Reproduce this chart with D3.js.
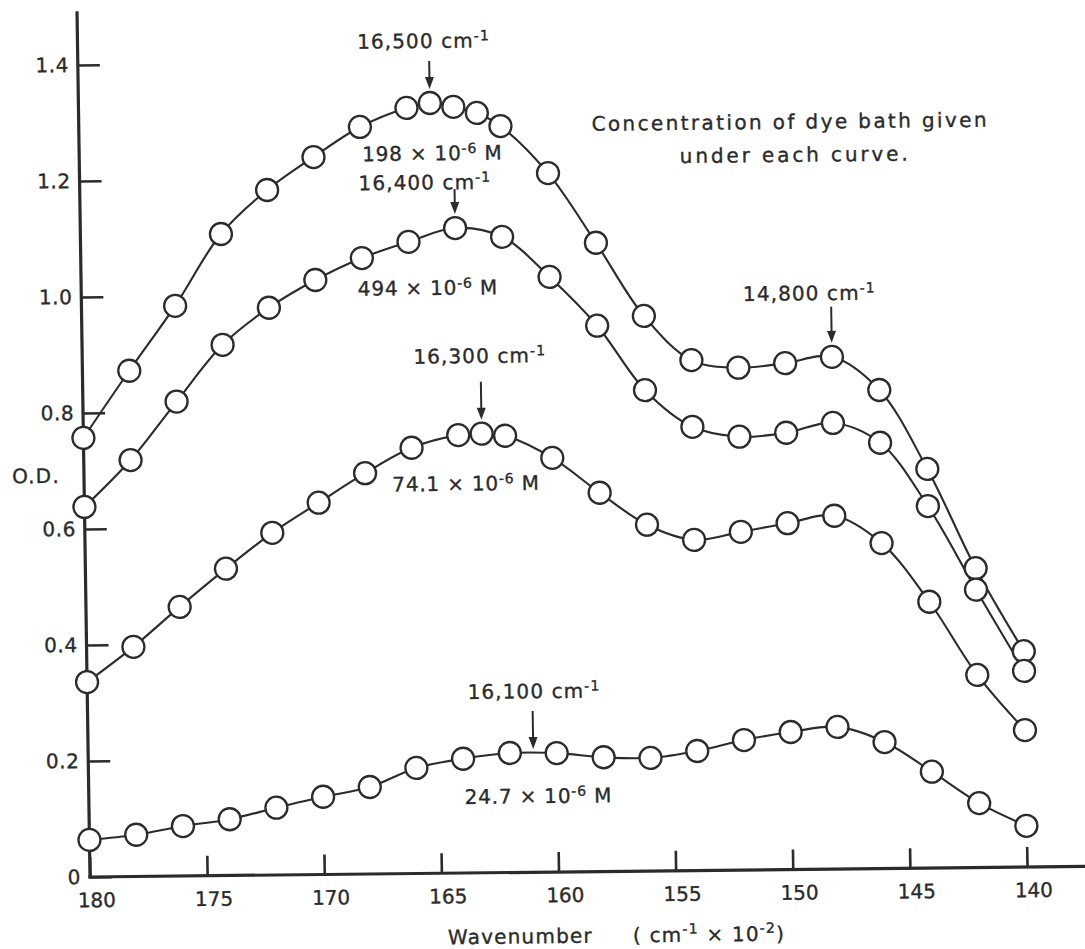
<!DOCTYPE html>
<html>
<head>
<meta charset="utf-8">
<script src="https://cdn.jsdelivr.net/npm/d3@7"></script>
<style>
  html, body { margin: 0; padding: 0; background: #ffffff; }
  svg { display: block; }
  text { font-family: "DejaVu Sans", "Liberation Sans", sans-serif; fill: #2b2b2b; stroke: #2b2b2b; stroke-width: 0.35px; }
</style>
</head>
<body>
<script>
// Absorption spectra of dyed film, one curve per dye-bath concentration.
// Wavenumber in units of 100 cm^-1, optical density (O.D.).

const wn198 = [180, 178, 176, 174, 172, 170, 168, 166, 165, 164, 163, 162, 160, 158, 156, 154, 152, 150, 148, 146, 144, 142, 140];
const od198 = [0.757, 0.872, 0.983, 1.106, 1.181, 1.237, 1.288, 1.320, 1.328, 1.321, 1.310, 1.287, 1.205, 1.084, 0.957, 0.880, 0.866, 0.873, 0.883, 0.825, 0.688, 0.516, 0.372];

const wn494 = [180, 178, 176, 174, 172, 170, 168, 166, 164, 162, 160, 158, 156, 154, 152, 150, 148, 146, 144, 142, 140];
const od494 = [0.638, 0.718, 0.818, 0.915, 0.978, 1.025, 1.062, 1.089, 1.112, 1.096, 1.026, 0.941, 0.829, 0.765, 0.747, 0.753, 0.769, 0.734, 0.624, 0.479, 0.338];

const wn741 = [180, 178, 176, 174, 172, 170, 168, 166, 164, 163, 162, 160, 158, 156, 154, 152, 150, 148, 146, 144, 142, 140];
const od741 = [0.336, 0.396, 0.464, 0.529, 0.590, 0.641, 0.691, 0.734, 0.755, 0.757, 0.753, 0.714, 0.653, 0.597, 0.570, 0.583, 0.597, 0.609, 0.561, 0.459, 0.332, 0.236];

const wn247 = [180, 178, 176, 174, 172, 170, 168, 166, 164, 162, 160, 158, 156, 154, 152, 150, 148, 146, 144, 142, 140];
const od247 = [0.064, 0.072, 0.086, 0.097, 0.116, 0.134, 0.150, 0.182, 0.197, 0.206, 0.205, 0.197, 0.195, 0.206, 0.224, 0.237, 0.245, 0.218, 0.166, 0.111, 0.071];

// Dye-bath concentrations (x 10^-6 M), one per curve above
const concentrations = ["198", "494", "74.1", "24.7"];

// Marked absorption maxima (cm^-1) and the curve each arrow points to
const peakWavenumbers = [165, 164, 163, 161, 148];
const peakLabels = ["16,500", "16,400", "16,300", "16,100", "14,800"];
const peakCurve = [0, 1, 2, 3, 0];

const xTicks = [180, 175, 170, 165, 160, 155, 150, 145, 140];
const yTicks = [0, 0.2, 0.4, 0.6, 0.8, 1.0, 1.2, 1.4];

const note = ["Concentration of dye bath given", "under each curve."];

// ---- layout -------------------------------------------------------------
const W = 1085, H = 949;
const INK = "#2b2b2b";
const R = 11;                       // marker radius
const FS = 20;                      // body text size
// The drawing sits slightly askew on the sheet
const SKEW_X = 0.015, SKEW_Y = -0.0107;

// label anchors in data units (wavenumber, O.D.) and arrow lengths in px
const peakLayout = [
  { tx: 165.23, ty: 1.423, len: 28 },
  { tx: 165.26, ty: 1.179, len: 25 },
  { tx: 163.03, ty: 0.879, len: 38 },
  { tx: 160.93, ty: 0.300, len: 38 },
  { tx: 148.92, ty: 0.981, len: 36 }
];
const concLayout = [
  { tx: 164.93, ty: 1.229 },
  { tx: 165.20, ty: 0.997 },
  { tx: 163.70, ty: 0.659 },
  { tx: 160.81, ty: 0.119 }
];

const x = d3.scaleLinear().domain([180, 140]).range([90, 1027]);
const y = d3.scaleLinear().domain([0, 1.4]).range([877, 65]);

const svg = d3.select("body").append("svg")
  .attr("width", W).attr("height", H)
  .attr("viewBox", `0 0 ${W} ${H}`);
svg.append("rect").attr("width", W).attr("height", H).attr("fill", "#ffffff");

const ox = x(180), oy = y(0);
const g = svg.append("g")
  .attr("transform", `matrix(1,${SKEW_Y},${SKEW_X},1,${-SKEW_X * oy},${-SKEW_Y * ox})`);

// ---- axes ---------------------------------------------------------------
const xAxis = d3.axisBottom(x)
  .tickValues(xTicks)
  .tickSize(-20)
  .tickSizeOuter(0)
  .tickPadding(16)
  .tickFormat(d3.format("d"));

const gx = g.append("g").attr("transform", `translate(0,${oy})`).call(xAxis);
gx.select(".domain").remove();
gx.selectAll(".tick line").attr("stroke", INK).attr("stroke-width", 2.6);
gx.selectAll(".tick text")
  .attr("fill", INK).attr("font-size", FS).attr("dx", 6)
  .style("font-family", "DejaVu Sans, sans-serif");

const yAxis = d3.axisLeft(y)
  .tickValues(yTicks)
  .tickSize(-22)
  .tickSizeOuter(0)
  .tickPadding(9)
  .tickFormat(d => d === 0 ? "0" : d3.format(".1f")(d));

const gy = g.append("g").attr("transform", `translate(${ox},0)`).call(yAxis);
gy.select(".domain").remove();
gy.selectAll(".tick line").attr("stroke", INK).attr("stroke-width", 2.6);
gy.selectAll(".tick text")
  .attr("fill", INK).attr("font-size", FS)
  .attr("letter-spacing", 0.5)
  .style("font-family", "DejaVu Sans, sans-serif");

// axis lines, running past the last ticks
g.append("line")
  .attr("x1", ox).attr("y1", oy).attr("x2", ox).attr("y2", y(1.49))
  .attr("stroke", INK).attr("stroke-width", 3.2).attr("stroke-linecap", "square");
g.append("line")
  .attr("x1", ox).attr("y1", oy).attr("x2", x(134)).attr("y2", oy)
  .attr("stroke", INK).attr("stroke-width", 3.2).attr("stroke-linecap", "square");

// rich text helper: parts = [{t, sup}]
function rich(sel, parts, supSize, supRise) {
  let pending = 0;
  parts.forEach(p => {
    const ts = sel.append("tspan").text(p.t);
    if (p.sup) {
      ts.attr("font-size", supSize).attr("dy", -supRise + pending);
      pending = supRise;
    } else if (pending) {
      ts.attr("dy", pending);
      pending = 0;
    }
  });
  return sel;
}

// axis titles
g.append("text")
  .attr("x", ox - 48).attr("y", y(0.68))
  .attr("text-anchor", "middle")
  .attr("font-size", FS).attr("letter-spacing", 1.2)
  .text("O.D.");

g.append("text")
  .attr("x", x(164.76)).attr("y", oy + 71)
  .attr("font-size", FS).attr("letter-spacing", 1.2)
  .text("Wavenumber");

rich(g.append("text")
  .attr("x", x(156.86)).attr("y", oy + 71)
  .attr("font-size", FS).attr("letter-spacing", 1.2),
  [{ t: "( cm" }, { t: "-1", sup: true }, { t: " × 10" }, { t: "-2", sup: true }, { t: ")" }], 14, 8);

// ---- curves -------------------------------------------------------------
const series = [
  { wn: wn198, od: od198 },
  { wn: wn494, od: od494 },
  { wn: wn741, od: od741 },
  { wn: wn247, od: od247 }
].map(s => s.wn.map((w, i) => ({ w, v: s.od[i] })));

const line = d3.line()
  .x(d => x(d.w))
  .y(d => y(d.v))
  .curve(d3.curveCatmullRom.alpha(0.5));

g.append("g").selectAll("path")
  .data(series)
  .join("path")
  .attr("d", line)
  .attr("fill", "none")
  .attr("stroke", INK)
  .attr("stroke-width", 2.1);

g.append("g").selectAll("g")
  .data(series)
  .join("g")
  .selectAll("circle")
  .data(d => d)
  .join("circle")
  .attr("cx", d => x(d.w))
  .attr("cy", d => y(d.v))
  .attr("r", R)
  .attr("fill", "#ffffff")
  .attr("stroke", INK)
  .attr("stroke-width", 2.3);

// ---- peak arrows --------------------------------------------------------
function valueAt(pts, w) {
  const hit = pts.find(p => p.w === w);
  if (hit) return { v: hit.v, onPoint: true };
  for (let i = 0; i < pts.length - 1; i++) {
    const a = pts[i], b = pts[i + 1];
    if ((a.w - w) * (b.w - w) <= 0) {
      const t = (w - a.w) / (b.w - a.w);
      return { v: a.v + t * (b.v - a.v), onPoint: false };
    }
  }
  return { v: pts[0].v, onPoint: false };
}

const arrows = g.append("g");
peakWavenumbers.forEach((w, i) => {
  const lay = peakLayout[i];
  const at = valueAt(series[peakCurve[i]], w);
  const ax = x(w);
  const tip = y(at.v) - (at.onPoint ? R + 3 : 4);
  const top = tip - lay.len;
  arrows.append("line")
    .attr("x1", ax).attr("y1", top).attr("x2", ax).attr("y2", tip - 8)
    .attr("stroke", INK).attr("stroke-width", 2);
  arrows.append("path")
    .attr("d", `M${ax - 4.5},${tip - 12} L${ax + 4.5},${tip - 12} L${ax},${tip} Z`)
    .attr("fill", INK);

  rich(arrows.append("text")
    .attr("x", x(lay.tx)).attr("y", y(lay.ty))
    .attr("text-anchor", "middle")
    .attr("font-size", FS).attr("letter-spacing", 1.1),
    [{ t: peakLabels[i] + "  cm" }, { t: "-1", sup: true }], 14, 7);
});

// ---- concentration labels ----------------------------------------------
concentrations.forEach((c, i) => {
  const lay = concLayout[i];
  rich(g.append("text")
    .attr("x", x(lay.tx)).attr("y", y(lay.ty))
    .attr("text-anchor", "middle")
    .attr("font-size", FS).attr("letter-spacing", 0.8),
    [{ t: c + " × 10" }, { t: "-6", sup: true }, { t: " M" }], 14, 7);
});

// ---- note ---------------------------------------------------------------
g.append("text")
  .attr("x", x(149.68)).attr("y", y(1.277))
  .attr("text-anchor", "middle")
  .attr("font-size", FS)
  .attr("textLength", 395).attr("lengthAdjust", "spacing")
  .text(note[0]);
g.append("text")
  .attr("x", x(149.5)).attr("y", y(1.22))
  .attr("text-anchor", "middle")
  .attr("font-size", FS)
  .attr("textLength", 228).attr("lengthAdjust", "spacing")
  .text(note[1]);
</script>
</body>
</html>
